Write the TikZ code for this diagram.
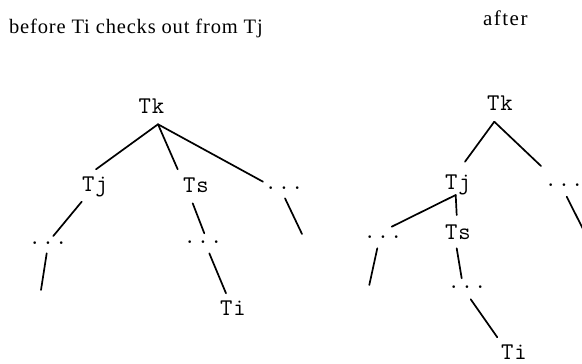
\documentclass[tikz,border=0pt]{standalone}
\usepackage{fontspec}
\setmainfont{Liberation Serif}
\newfontfamily\titlefont[LetterSpace=4]{Liberation Serif}
\newfontfamily\afterfont[LetterSpace=7]{Liberation Serif}
\newfontfamily\labelfont[LetterSpace=4]{Latin Modern Mono}
\begin{document}
\begin{tikzpicture}[x=1pt,y=-1pt,
  lab/.style={font=\labelfont\fontsize{24}{28}\selectfont, inner sep=0pt, anchor=base},
  dotsnode/.style={font=\labelfont\fontsize{24}{28}\selectfont, inner sep=0pt, anchor=center},
  heading/.style={inner sep=0pt, anchor=base west},
  branch/.style={line width=1.7pt, line cap=round}]
\useasboundingbox (0,0) rectangle (582,364);
\clip (0,0) rectangle (582,364);
% headings
\node[heading, font=\titlefont\fontsize{20.5}{24}\selectfont] (title) at (9,33) {before Ti checks out from Tj};
\node[heading, font=\afterfont\fontsize{21}{25}\selectfont] (after) at (483,26) {after};
% left tree
\node[lab] (lTk) at (151.5,113.3) {Tk};
\node[lab] (lTj) at (95,191.7) {Tj};
\node[lab] (lTs) at (196,192) {Ts};
\node[dotsnode] (lrd) at (284,188) {...};
\node[dotsnode] (lld) at (48,243) {...};
\node[dotsnode] (lsd) at (203,242) {...};
\node[lab] (lTi) at (233,315.7) {Ti};
\coordinate (lldEnd) at (41,290);
\coordinate (lrdEnd) at (302,234);
\draw[branch] ([shift={(6.5,11)}]lTk.base) -- ([shift={(1,-22.4)}]lTj.base);
\draw[branch] ([shift={(6.5,11)}]lTk.base) -- ([shift={(-18.3,-22.7)}]lTs.base);
\draw[branch] ([shift={(6.5,11)}]lTk.base) -- ([shift={(-21,-6.3)}]lrd.center);
\draw[branch] ([shift={(-13.3,10)}]lTj.base) -- ([shift={(5.3,-7)}]lld.center);
\draw[branch] ([shift={(-1.3,10.3)}]lld.center) -- (lldEnd);
\draw[branch] ([shift={(-3.3,11.3)}]lTs.base) -- ([shift={(1.3,-8.7)}]lsd.center);
\draw[branch] ([shift={(6.3,11.3)}]lsd.center) -- ([shift={(-7,-22.4)}]lTi.base);
\draw[branch] ([shift={(1,10.3)}]lrd.center) -- (lrdEnd);
% right tree
\node[lab] (rTk) at (500,110) {Tk};
\node[lab] (rTj) at (458,189) {Tj};
\node[dotsnode] (rrd) at (564,185) {...};
\node[dotsnode] (rld) at (383,237) {...};
\node[lab] (rTs) at (458,239) {Ts};
\node[dotsnode] (rsd) at (467,287) {...};
\node[lab] (rTi) at (514,359.5) {Ti};
\coordinate (rldEnd) at (369.3,285);
\coordinate (rrdEnd) at (584,231);
\draw[branch] ([shift={(-5.7,11.7)}]rTk.base) -- ([shift={(7,-27.3)}]rTj.base);
\draw[branch] ([shift={(-5.7,11.7)}]rTk.base) -- ([shift={(-23,-19)}]rrd.center);
\draw[branch] ([shift={(2.7,11.7)}]rrd.center) -- (rrdEnd);
\draw[branch] ([shift={(-2.3,6)}]rTj.base) -- ([shift={(8.7,-10.3)}]rld.center);
\draw[branch] ([shift={(-2.3,6)}]rTj.base) -- ([shift={(-1.3,-24)}]rTs.base);
\draw[branch] ([shift={(-5.7,11.3)}]rld.center) -- (rldEnd);
\draw[branch] ([shift={(-1.3,9.3)}]rTs.base) -- ([shift={(-5.3,-8.7)}]rsd.center);
\draw[branch] ([shift={(3.7,12.3)}]rsd.center) -- ([shift={(-16.7,-22.2)}]rTi.base);
\end{tikzpicture}
\end{document}
